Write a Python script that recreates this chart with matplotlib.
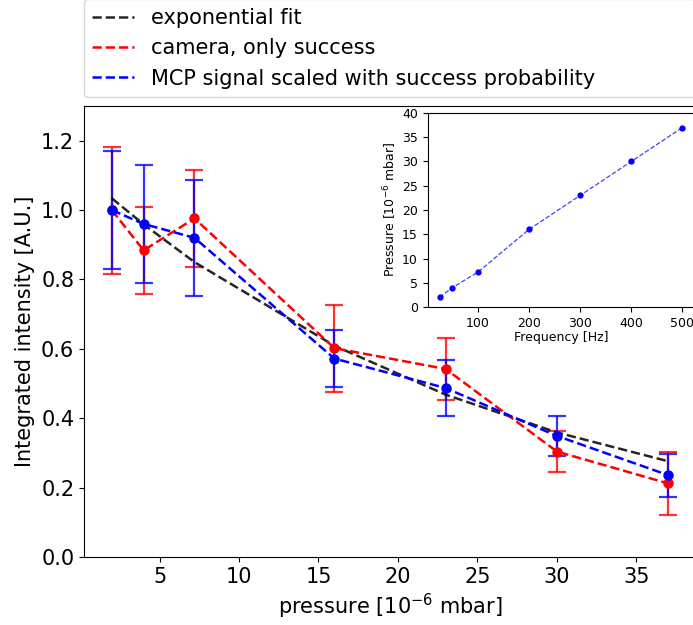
import numpy as np
import matplotlib
matplotlib.use("Agg")
import matplotlib.pyplot as plt

# pressure points [1e-6 mbar]
pressure = [2, 4, 7.2, 16, 23, 30, 37]

# camera, only success
camera = [1.0, 0.884, 0.976, 0.602, 0.542, 0.304, 0.212]
camera_err = [0.183, 0.125, 0.14, 0.125, 0.09, 0.06, 0.09]

# MCP signal scaled with success probability
mcp = [1.0, 0.96, 0.92, 0.572, 0.487, 0.349, 0.236]
mcp_err = [0.17, 0.171, 0.167, 0.081, 0.08, 0.058, 0.062]

# exponential fit values at the pressure points
fit = [1.034, 0.959, 0.85, 0.609, 0.468, 0.359, 0.276]

# inset: calibration frequency -> pressure
freq = [25, 50, 100, 200, 300, 400, 500]
freq_pressure = [2, 4, 7.2, 16, 23, 30, 37]

W, H = 693, 625
fig = plt.figure(figsize=(W / 100, H / 100), dpi=100)

## -- MAIN AXES -- ##
ax = fig.add_axes([84 / W, (H - 557) / H, 612 / W, 451 / H])
ax.errorbar(pressure, camera, yerr=camera_err, fmt='none', ecolor='red',
            elinewidth=1.6, capsize=6.5, capthick=1.6, alpha=0.8)
ax.errorbar(pressure, mcp, yerr=mcp_err, fmt='none', ecolor='blue',
            elinewidth=1.6, capsize=6.5, capthick=1.6, alpha=0.8)
ax.plot(pressure, fit, '--', color='black', lw=1.8, alpha=0.85, label='exponential fit')
ax.plot(pressure, camera, '--', color='red', lw=1.8, label='camera, only success')
ax.plot(pressure, camera, 'o', color='red', ms=6.5)
ax.plot(pressure, mcp, '--', color='blue', lw=1.8, label='MCP signal scaled with success probability')
ax.plot(pressure, mcp, 'o', color='blue', ms=6.5)

ax.set_xlim(0.25, 38.75)
ax.set_ylim(0, 1.3)
ax.set_xticks([5, 10, 15, 20, 25, 30, 35])
ax.set_yticks([0.0, 0.2, 0.4, 0.6, 0.8, 1.0, 1.2])
ax.tick_params(labelsize=15)
ax.set_xlabel('pressure [10$^{-6}$ mbar]', fontsize=15)
ax.set_ylabel('Integrated intensity [A.U.]', fontsize=15)
ax.legend(bbox_to_anchor=(0., 1.02, 1., .102), loc='lower left', ncol=1,
          mode='expand', borderaxespad=0., fontsize=15)

## -- INSET -- ##
ins = fig.add_axes([427.5 / W, (H - 307) / H, 267 / W, 194 / H])
ins.plot(freq, freq_pressure, '--', color='blue', lw=0.9, alpha=0.75)
ins.plot(freq, freq_pressure, 'o', color='blue', ms=3.5)
ins.set_ylim(0, 40)
ins.set_xticks([100, 200, 300, 400, 500])
ins.set_yticks([0, 5, 10, 15, 20, 25, 30, 35, 40])
ins.tick_params(labelsize=9)
ins.set_xlabel('Frequency [Hz]', fontsize=9, labelpad=1)
ins.set_ylabel('Pressure [10$^{-6}$ mbar]', fontsize=9, labelpad=2)

fig.savefig('out.png', dpi=100)
